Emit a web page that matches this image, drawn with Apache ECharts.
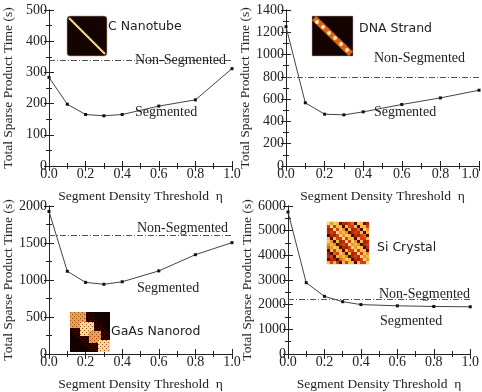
<!DOCTYPE html>
<html>
<head>
<meta charset="utf-8">
<script src="https://cdn.jsdelivr.net/npm/echarts@6/dist/echarts.min.js"></script>
<style>
  html, body { margin: 0; padding: 0; background: #fff; }
  #chart { width: 482px; height: 392px; }
</style>
</head>
<body>
<div id="chart"></div>
<script>
// Segment density threshold values (shared x positions)
const thresholds = [0.0, 0.1, 0.2, 0.3, 0.4, 0.6, 0.8, 1.0];

// Segmented total sparse product time (s) per system
const nanotubeTimes = [284, 198, 165, 161, 165, 192, 212, 312];
const dnaTimes      = [1250, 567, 465, 459, 486, 552, 611, 680];
const gaasTimes     = [1927, 1118, 968, 942, 976, 1123, 1342, 1505];
const siTimes       = [5756, 2891, 2338, 2120, 2004, 1953, 1927, 1914];

// Non-segmented reference times (s)
const nanotubeFlat = 338;
const dnaFlat = 800;
const gaasFlat = 1600;
const siFlat = 2210;

// y-axis ranges: [max, interval]
const nanotubeAxis = [500, 100];
const dnaAxis = [1400, 200];
const gaasAxis = [2000, 500];
const siAxis = [6000, 1000];

const panelTitles = ['C Nanotube', 'DNA Strand', 'GaAs Nanorod', 'Si Crystal'];
const xAxisTitle = 'Segment Density Threshold  η';
const yAxisTitle = 'Total Sparse Product Time (s)';
const flatLabel = 'Non-Segmented';
const curveLabel = 'Segmented';

const SERIF = '"Liberation Serif", "DejaVu Serif", serif';
const SANS = '"DejaVu Sans", sans-serif';
const INK = '#222';

const panels = [
  { grid: { left: 47, top: 10, width: 185, height: 156 }, values: nanotubeTimes, flat: nanotubeFlat, axis: nanotubeAxis, alignMax: false },
  { grid: { left: 286, top: 10, width: 193, height: 156 }, values: dnaTimes, flat: dnaFlat, axis: dnaAxis, alignMax: true },
  { grid: { left: 48, top: 206, width: 184, height: 155 }, values: gaasTimes, flat: gaasFlat, axis: gaasAxis, alignMax: false },
  { grid: { left: 288, top: 206, width: 184, height: 156 }, values: siTimes, flat: siFlat, axis: siAxis, alignMax: false }
];

const grids = [], xAxes = [], yAxes = [], series = [];

panels.forEach((p, i) => {
  grids.push(Object.assign({ containLabel: false }, p.grid));
  const tickCommon = {
    axisLine: { show: true, lineStyle: { color: INK, width: 1 } },
    axisTick: { show: true, inside: true, length: 5, lineStyle: { color: INK } },
    minorTick: { show: true, splitNumber: 2, length: 3, lineStyle: { color: INK } },
    splitLine: { show: false }
  };
  // bottom x axis with labels
  xAxes.push(Object.assign({
    gridIndex: i, type: 'value', position: 'bottom', min: 0, max: 1, interval: 0.2,
    name: xAxisTitle, nameLocation: 'middle', nameGap: 23,
    nameTextStyle: { fontFamily: SERIF, fontSize: 13.5, color: INK },
    axisLabel: {
      show: true, margin: 1, fontFamily: SERIF, fontSize: 14, color: INK,
      formatter: v => v.toFixed(1), alignMaxLabel: p.alignMax ? 'right' : null
    }
  }, tickCommon));
  // mirrored top x axis
  xAxes.push(Object.assign({
    gridIndex: i, type: 'value', position: 'top', min: 0, max: 1, interval: 0.2,
    axisLabel: { show: false }
  }, tickCommon));
  // left y axis with labels
  yAxes.push(Object.assign({
    gridIndex: i, type: 'value', position: 'left', min: 0, max: p.axis[0], interval: p.axis[1],
    name: yAxisTitle, nameLocation: 'middle', nameGap: 34,
    nameTextStyle: { fontFamily: SERIF, fontSize: 13.5, color: INK },
    axisLabel: { show: true, margin: 2, fontFamily: SERIF, fontSize: 14, color: INK, formatter: v => String(v) }
  }, tickCommon));
  // mirrored right y axis
  yAxes.push(Object.assign({
    gridIndex: i, type: 'value', position: 'right', min: 0, max: p.axis[0], interval: p.axis[1],
    axisLabel: { show: false }
  }, tickCommon));

  series.push({
    type: 'line',
    xAxisIndex: i * 2, yAxisIndex: i * 2,
    data: thresholds.map((x, k) => [x, p.values[k]]),
    symbol: 'rect', symbolSize: 3,
    itemStyle: { color: '#111' },
    lineStyle: { color: '#444', width: 1 },
    animation: false,
    markLine: {
      silent: true, symbol: 'none', animation: false,
      label: { show: false },
      lineStyle: { color: '#555', width: 1, type: [6, 2, 1, 2] },
      data: [{ yAxis: p.flat }]
    }
  });
});

// ---- decorative matrix thumbnails and annotations ----
function txt(x, y, text, font, size, align) {
  return {
    type: 'text', x: x, y: y, z: 10,
    style: { text: text, fontFamily: font, fontSize: size, fill: INK, textAlign: align || 'left', textVerticalAlign: 'middle' }
  };
}

const gfx = [];

// carbon nanotube: thin diagonal band on black
gfx.push({ type: 'rect', shape: { x: 67, y: 16, width: 40, height: 40, r: 3 }, style: { fill: '#140400', stroke: '#c8a070', lineWidth: 0.6 }, z: 5 });
gfx.push({ type: 'line', shape: { x1: 69, y1: 18, x2: 105, y2: 54 }, style: { stroke: '#f3d38c', lineWidth: 2.2 }, z: 6 });

// DNA strand: wider orange band with bright beads
gfx.push({ type: 'rect', shape: { x: 312, y: 16, width: 41, height: 40 }, style: { fill: '#160300', stroke: '#aaa', lineWidth: 0.5 }, z: 5 });
gfx.push({ type: 'line', shape: { x1: 314, y1: 18, x2: 351, y2: 54 }, style: { stroke: '#d8621a', lineWidth: 6 }, z: 6 });
[[317, 22], [323, 27], [329, 33], [335, 38], [341, 44], [347, 50]].forEach(c => {
  gfx.push({ type: 'circle', shape: { cx: c[0], cy: c[1], r: 2 }, style: { fill: '#ffe6a0' }, z: 7 });
});

// GaAs nanorod: block-diagonal structure with a fine checker texture
gfx.push({ type: 'rect', shape: { x: 70, y: 312, width: 40, height: 40 }, style: { fill: '#120200' }, z: 5 });
const gaasBlocks = [[70, 312, 16], [80, 322, 14], [89, 331, 12], [98, 340, 12]];
gaasBlocks.forEach((b, n) => {
  gfx.push({ type: 'rect', shape: { x: b[0], y: b[1], width: b[2], height: b[2] }, style: { fill: n % 2 ? '#f7dc8e' : '#e6a546' }, z: 6 });
});
for (let r = 0; r < 20; r++) {
  for (let c = 0; c < 20; c++) {
    if (Math.abs(r - c) < 9 && (r + c) % 2 === 0) {
      gfx.push({ type: 'rect', shape: { x: 70 + c * 2, y: 312 + r * 2, width: 1, height: 1 }, style: { fill: '#7a1a04', opacity: 0.7 }, z: 7 });
    }
  }
}

// Si crystal: dense mottled pattern
gfx.push({ type: 'rect', shape: { x: 327, y: 222, width: 42, height: 42 }, style: { fill: '#c8320c', stroke: '#d9b08a', lineWidth: 0.6 }, z: 5 });
const siTiles = ['#e8641a', '#f6c548', '#a81e06', '#f09a2c', '#5a0c02', '#d2400e', '#ffd870', '#b8280a'];
for (let r = 0; r < 14; r++) {
  for (let c = 0; c < 14; c++) {
    let col = siTiles[(r * 5 + c * 3 + ((r * c) % 4)) % siTiles.length];
    if (r === c) col = '#ffe58a';
    if (Math.abs(r - c) === 4 || Math.abs(r - c) === 9) col = '#3a0800';
    gfx.push({ type: 'rect', shape: { x: 327 + c * 3, y: 222 + r * 3, width: 3, height: 3 }, style: { fill: col, opacity: 0.92 }, z: 6 });
  }
}

// thumbnail captions
gfx.push(txt(108, 27, panelTitles[0], SANS, 12.5));
gfx.push(txt(359, 29, panelTitles[1], SANS, 12.5));
gfx.push(txt(111, 332, panelTitles[2], SANS, 12.5));
gfx.push(txt(377, 248, panelTitles[3], SANS, 12.5));

// curve annotations
gfx.push(txt(135, 60, flatLabel, SERIF, 14));
gfx.push(txt(135, 112, curveLabel, SERIF, 14));
gfx.push(txt(374, 58, flatLabel, SERIF, 14));
gfx.push(txt(374, 112, curveLabel, SERIF, 14));
gfx.push(txt(137, 228, flatLabel, SERIF, 14));
gfx.push(txt(137, 288, curveLabel, SERIF, 14));
gfx.push(txt(379, 294, flatLabel, SERIF, 14));
gfx.push(txt(380, 321, curveLabel, SERIF, 14));

const chart = echarts.init(document.getElementById('chart'), null, { renderer: 'canvas' });
chart.setOption({
  backgroundColor: '#fff',
  animation: false,
  grid: grids,
  xAxis: xAxes,
  yAxis: yAxes,
  series: series,
  graphic: gfx
});
</script>
</body>
</html>
